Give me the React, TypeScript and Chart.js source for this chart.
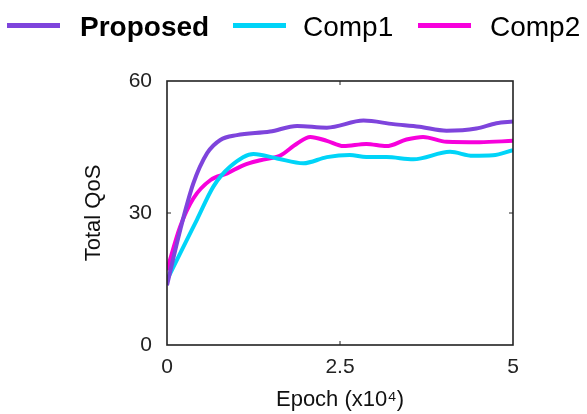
import React, { useEffect, useRef } from "react";
import { Chart, registerables } from "chart.js";

Chart.register(...registerables);

const FONT = '"Liberation Sans", Arial, Helvetica, sans-serif';

// ---- data ----
const seriesNames = ["Proposed", "Comp1", "Comp2"];
const seriesColors = ["#7E44DC", "#00D4F8", "#F700DC"];

const proposedX = [0, 0.19, 0.38, 0.58, 0.77, 1.01, 1.49, 1.88, 2.31, 2.84, 3.27, 3.65, 4.04, 4.47, 4.76, 5];
const proposedY = [13.6, 26.1, 36.7, 43.6, 46.6, 47.7, 48.5, 49.8, 49.4, 51.0, 50.2, 49.6, 48.7, 49.2, 50.4, 50.8];

const comp1X = [0, 0.19, 0.43, 0.67, 0.91, 1.25, 1.59, 1.97, 2.31, 2.64, 2.88, 3.17, 3.56, 4.09, 4.42, 4.71, 5];
const comp1Y = [14.8, 20.8, 28.4, 36.0, 40.5, 43.4, 42.4, 41.3, 42.7, 43.2, 42.7, 42.7, 42.2, 43.9, 43.0, 43.1, 44.3];

const comp2X = [0, 0.19, 0.38, 0.63, 0.87, 1.11, 1.35, 1.63, 1.88, 2.07, 2.31, 2.55, 2.88, 3.17, 3.46, 3.7, 4.04, 4.52, 5];
const comp2Y = [17.0, 26.9, 33.3, 37.5, 39.0, 40.9, 42.0, 43.0, 45.8, 47.3, 46.4, 45.2, 45.7, 45.2, 46.7, 47.3, 46.2, 46.1, 46.4];

const xTicks = [0, 2.5, 5];
const xTickLabels = ["0", "2.5", "5"];
const yTicks = [0, 30, 60];
const xTitle = "Epoch (x10\u2074)";
const yTitle = "Total QoS";

const toPoints = (xs: number[], ys: number[]) => xs.map((x, i) => ({ x, y: ys[i] }));

const framePlugin = {
  id: "frame",
  afterDatasetsDraw(chart: any) {
    const { ctx, chartArea } = chart;
    const { left, right, top, bottom } = chartArea;
    const xs = chart.scales.x;
    const ys = chart.scales.y;
    ctx.save();
    ctx.strokeStyle = "#222";
    ctx.lineWidth = 1.6;
    ctx.strokeRect(left, top, right - left, bottom - top);
    ctx.lineWidth = 1;
    ctx.beginPath();
    const tl = 4;
    xTicks.slice(1, -1).forEach((v) => {
      const px = xs.getPixelForValue(v);
      ctx.moveTo(px, bottom);
      ctx.lineTo(px, bottom - tl);
      ctx.moveTo(px, top);
      ctx.lineTo(px, top + tl);
    });
    yTicks.slice(1, -1).forEach((v) => {
      const py = ys.getPixelForValue(v);
      ctx.moveTo(left, py);
      ctx.lineTo(left + tl, py);
      ctx.moveTo(right, py);
      ctx.lineTo(right - tl, py);
    });
    ctx.stroke();
    ctx.restore();
  },
};

const legendPlugin = {
  id: "customLegend",
  afterDraw(chart: any) {
    const { ctx } = chart;
    const items = [
      { lineX: 7, textX: 80, bold: true },
      { lineX: 233, textX: 303, bold: false },
      { lineX: 418, textX: 490, bold: false },
    ];
    ctx.save();
    items.forEach((it, i) => {
      ctx.fillStyle = seriesColors[i];
      ctx.fillRect(it.lineX, 23, 53, 5);
      ctx.fillStyle = "#000";
      ctx.font = `${it.bold ? "bold " : ""}28px ${FONT}`;
      ctx.textBaseline = "alphabetic";
      ctx.textAlign = "left";
      ctx.fillText(seriesNames[i], it.textX, 35.5);
    });
    ctx.restore();
  },
};

export default function App() {
  const ref = useRef<HTMLCanvasElement>(null);

  useEffect(() => {
    const allX = [proposedX, comp1X, comp2X];
    const allY = [proposedY, comp1Y, comp2Y];
    const chart = new Chart(ref.current as HTMLCanvasElement, {
      type: "line",
      data: {
        datasets: seriesNames.map((name, i) => ({
          label: name,
          data: toPoints(allX[i], allY[i]),
          borderColor: seriesColors[i],
          backgroundColor: seriesColors[i],
          borderWidth: 4,
          pointRadius: 0,
          fill: false,
          cubicInterpolationMode: "monotone" as const,
        })),
      },
      options: {
        responsive: false,
        animation: false,
        devicePixelRatio: 1,
        layout: { padding: { left: 0, right: 74, top: 81, bottom: 0 } },
        plugins: { legend: { display: false }, tooltip: { enabled: false } },
        scales: {
          x: {
            type: "linear",
            min: 0,
            max: 5,
            afterFit: (s: any) => {
              s.height = 69;
            },
            afterBuildTicks: (s: any) => {
              s.ticks = xTicks.map((v) => ({ value: v }));
            },
            grid: { display: false, drawTicks: false },
            border: { display: false },
            ticks: {
              padding: 10,
              maxRotation: 0,
              autoSkip: false,
              color: "#222",
              font: { family: FONT, size: 21 },
              callback: (v: any) => {
                const idx = xTicks.indexOf(Number(v));
                return idx >= 0 ? xTickLabels[idx] : "";
              },
            },
            title: {
              display: true,
              text: xTitle,
              color: "#111",
              font: { family: FONT, size: 22 },
              padding: { top: 0, bottom: 1 },
            },
          },
          y: {
            type: "linear",
            min: 0,
            max: 60,
            afterFit: (s: any) => {
              s.width = 167;
            },
            afterBuildTicks: (s: any) => {
              s.ticks = yTicks.map((v) => ({ value: v }));
            },
            grid: { display: false, drawTicks: false },
            border: { display: false },
            ticks: {
              padding: 15,
              color: "#222",
              font: { family: FONT, size: 21 },
            },
            title: {
              display: true,
              text: yTitle,
              color: "#111",
              font: { family: FONT, size: 22 },
              padding: { top: 81, bottom: 0 },
            },
          },
        },
      },
      plugins: [framePlugin, legendPlugin],
    });
    return () => chart.destroy();
  }, []);

  return (
    <div style={{ position: "absolute", left: 0, top: 0, width: 587, height: 414, background: "#fff" }}>
      <canvas ref={ref} width={587} height={414} style={{ display: "block" }} />
    </div>
  );
}
